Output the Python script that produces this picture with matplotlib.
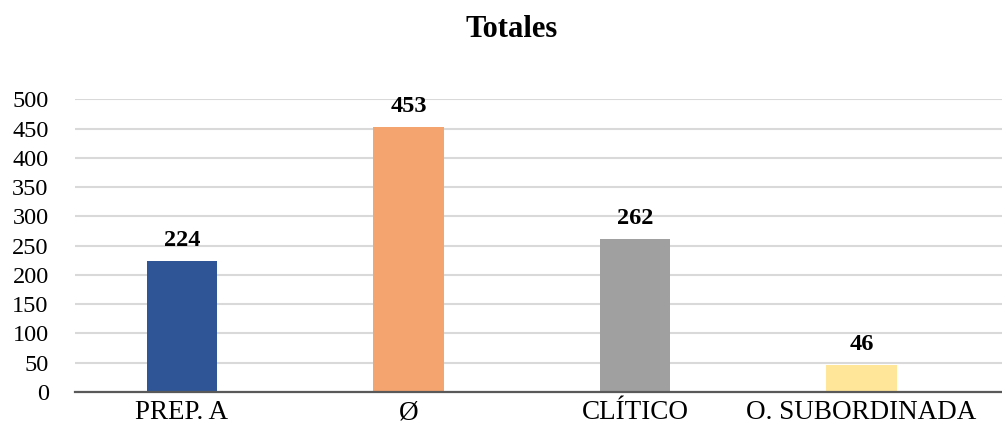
import matplotlib.pyplot as plt
import numpy as np

categories = ["PREP. A", "Ø", "CLÍTICO", "O. SUBORDINADA"]
values = [224, 453, 262, 46]
colors = ["#2F5597", "#F4A46F", "#A0A0A0", "#FFE699"]
title = "Totales"

plt.rcParams['font.family'] = ['Liberation Serif', 'DejaVu Serif']

fig = plt.figure(figsize=(10.03, 4.26), dpi=100)
ax = fig.add_axes([0.0748, 0.0798, 0.9252, 0.687])

x = np.arange(len(categories))
ax.bar(x, values, width=0.31, color=colors, zorder=3)

for xi, v in zip(x, values):
    ax.annotate(str(v), (xi, v), xytext=(0, 7), textcoords="offset points",
                ha="center", va="bottom", fontsize=17.5, fontweight="bold")

ax.set_xlim(-0.472, 3.625)
ax.set_ylim(0, 500)
ax.set_yticks(np.arange(0, 501, 50))
ax.set_xticks(x)
ax.set_xticklabels(categories, fontsize=19.5)
ax.tick_params(axis="y", labelsize=17.5, length=0, pad=19)
ax.tick_params(axis="x", length=0, pad=6)

ax.grid(axis="y", color="#D9D9D9", linewidth=1.5, zorder=0)
for s in ["top", "right", "left"]:
    ax.spines[s].set_visible(False)
ax.spines["bottom"].set_color("#595959")
ax.spines["bottom"].set_linewidth(1.6)
ax.spines["bottom"].set_zorder(4)

fig.text(0.51, 0.93, title, ha="center", va="center", fontsize=22, fontweight="bold")

fig.savefig("out.png", dpi=100)
